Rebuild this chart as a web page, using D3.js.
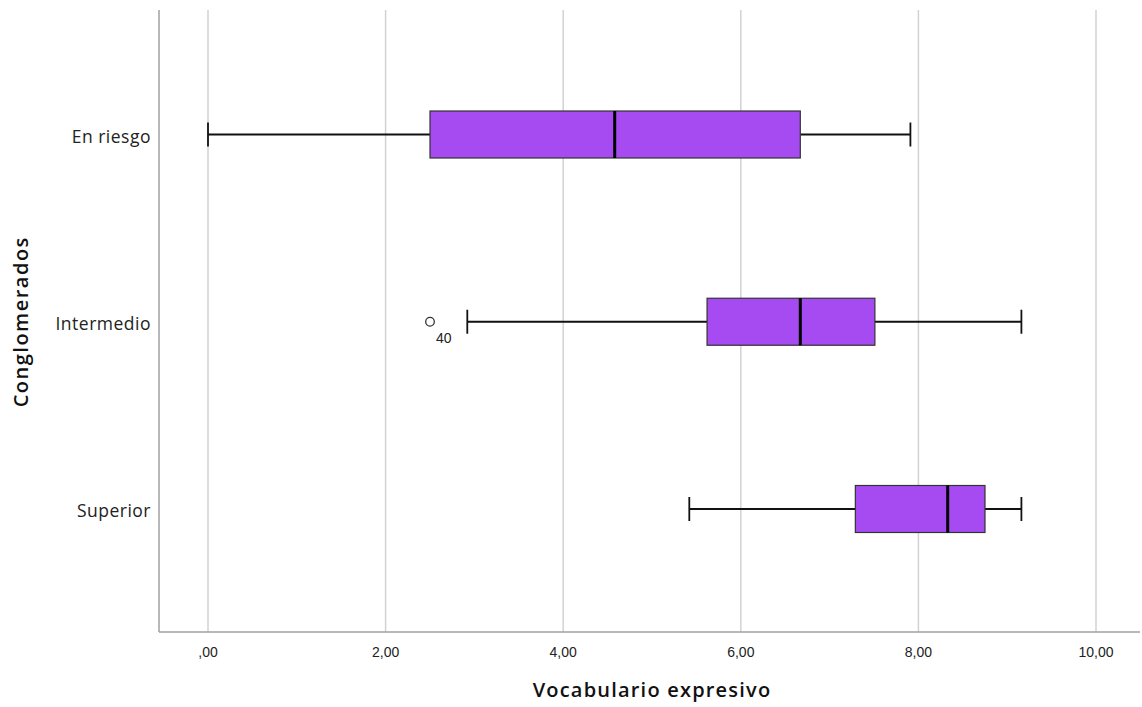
<!DOCTYPE html>
<html>
<head>
<meta charset="utf-8">
<script src="https://cdn.jsdelivr.net/npm/d3@7"></script>
<style>
  body { margin: 0; background: #fff; }
  svg { display: block; }
</style>
</head>
<body>
<div id="myChart"></div>
<script>
// data
var categories = ["En riesgo", "Intermedio", "Superior"];
var whiskerLow = [0.00, 2.92, 5.42];
var q1 = [2.50, 5.62, 7.29];
var median = [4.58, 6.67, 8.33];
var q3 = [6.67, 7.51, 8.75];
var whiskerHigh = [7.91, 9.16, 9.16];
var outliers = [{ cat: "Intermedio", value: 2.50, label: "40" }];
var xTicks = [0, 2, 4, 6, 8, 10];

var width = 1142, height = 707;
var plotLeft = 159, plotRight = 1140, plotTop = 10, plotBottom = 632;

var svg = d3.select("#myChart")
    .append("svg")
    .attr("width", width).attr("height", height);

var x = d3.scaleLinear().domain([0, 10]).range([208, 1096]);
var y = d3.scalePoint().domain(categories).range([plotTop + 124.5, plotBottom - 123]);

var fmt = function(d) {
    var s = d3.format(".2f")(d).replace(".", ",");
    return s.replace(/^0,/, ",");
};

// grid
svg.selectAll(".grid")
    .data(xTicks)
    .enter().append("line")
    .attr("x1", d => x(d)).attr("x2", d => x(d))
    .attr("y1", plotTop).attr("y2", plotBottom)
    .attr("stroke", "#d2d2d2")
    .attr("stroke-width", 1.5);

// axis lines
svg.append("line")
    .attr("x1", plotLeft).attr("x2", plotLeft)
    .attr("y1", plotTop).attr("y2", plotBottom)
    .attr("stroke", "#a0a0a0").attr("stroke-width", 1.5);
svg.append("line")
    .attr("x1", plotLeft).attr("x2", plotRight)
    .attr("y1", plotBottom).attr("y2", plotBottom)
    .attr("stroke", "#a0a0a0").attr("stroke-width", 1.5);

// x tick labels
svg.selectAll(".xt")
    .data(xTicks)
    .enter().append("text")
    .attr("x", d => x(d)).attr("y", 657)
    .attr("text-anchor", "middle")
    .attr("font-family", "Liberation Sans, Arial, sans-serif")
    .attr("font-size", 14)
    .attr("fill", "#222")
    .text(fmt);

// category labels
svg.selectAll(".yt")
    .data(categories)
    .enter().append("text")
    .attr("x", 151).attr("y", d => y(d) + 8)
    .attr("text-anchor", "end")
    .attr("font-family", "Open Sans, Noto Sans, sans-serif")
    .attr("font-size", 17.5)
    .attr("letter-spacing", 0.5)
    .attr("fill", "#222")
    .text(d => d);

// axis titles
svg.append("text")
    .attr("x", 652).attr("y", 697)
    .attr("text-anchor", "middle")
    .attr("font-family", "Open Sans, Noto Sans, sans-serif")
    .attr("font-size", 20).attr("font-weight", 600)
    .attr("letter-spacing", 1.2)
    .attr("fill", "#111")
    .text("Vocabulario expresivo");

svg.append("text")
    .attr("transform", "translate(28," + y("Intermedio") + ") rotate(-90)")
    .attr("text-anchor", "middle")
    .attr("font-family", "Open Sans, Noto Sans, sans-serif")
    .attr("font-size", 20).attr("font-weight", 600)
    .attr("letter-spacing", 1.5)
    .attr("fill", "#111")
    .text("Conglomerados");

// boxes
var boxH = 47, capH = 24;
var g = svg.selectAll(".box")
    .data(categories)
    .enter().append("g");

// whiskers
g.append("line")
    .attr("x1", (d, i) => x(whiskerLow[i])).attr("x2", (d, i) => x(q1[i]))
    .attr("y1", d => y(d)).attr("y2", d => y(d))
    .attr("stroke", "#111").attr("stroke-width", 1.8);
g.append("line")
    .attr("x1", (d, i) => x(q3[i])).attr("x2", (d, i) => x(whiskerHigh[i]))
    .attr("y1", d => y(d)).attr("y2", d => y(d))
    .attr("stroke", "#111").attr("stroke-width", 1.8);
g.append("line")
    .attr("x1", (d, i) => x(whiskerLow[i])).attr("x2", (d, i) => x(whiskerLow[i]))
    .attr("y1", d => y(d) - capH / 2).attr("y2", d => y(d) + capH / 2)
    .attr("stroke", "#111").attr("stroke-width", 1.8);
g.append("line")
    .attr("x1", (d, i) => x(whiskerHigh[i])).attr("x2", (d, i) => x(whiskerHigh[i]))
    .attr("y1", d => y(d) - capH / 2).attr("y2", d => y(d) + capH / 2)
    .attr("stroke", "#111").attr("stroke-width", 1.8);

g.append("rect")
    .attr("x", (d, i) => x(q1[i]))
    .attr("width", (d, i) => x(q3[i]) - x(q1[i]))
    .attr("y", d => y(d) - boxH / 2)
    .attr("height", boxH)
    .attr("fill", "#a64bf2")
    .attr("stroke", "#333").attr("stroke-width", 1.2);

g.append("line")
    .attr("x1", (d, i) => x(median[i])).attr("x2", (d, i) => x(median[i]))
    .attr("y1", d => y(d) - boxH / 2).attr("y2", d => y(d) + boxH / 2)
    .attr("stroke", "#000").attr("stroke-width", 3);

// outliers
svg.selectAll(".out")
    .data(outliers)
    .enter().append("circle")
    .attr("cx", d => x(d.value)).attr("cy", d => y(d.cat))
    .attr("r", 4.3)
    .attr("fill", "#fff")
    .attr("stroke", "#333").attr("stroke-width", 1.3);

svg.selectAll(".outlbl")
    .data(outliers)
    .enter().append("text")
    .attr("x", d => x(d.value) + 6).attr("y", d => y(d.cat) + 21)
    .attr("font-family", "Liberation Sans, Arial, sans-serif")
    .attr("font-size", 14)
    .attr("fill", "#222")
    .text(d => d.label);
</script>
</body>
</html>
